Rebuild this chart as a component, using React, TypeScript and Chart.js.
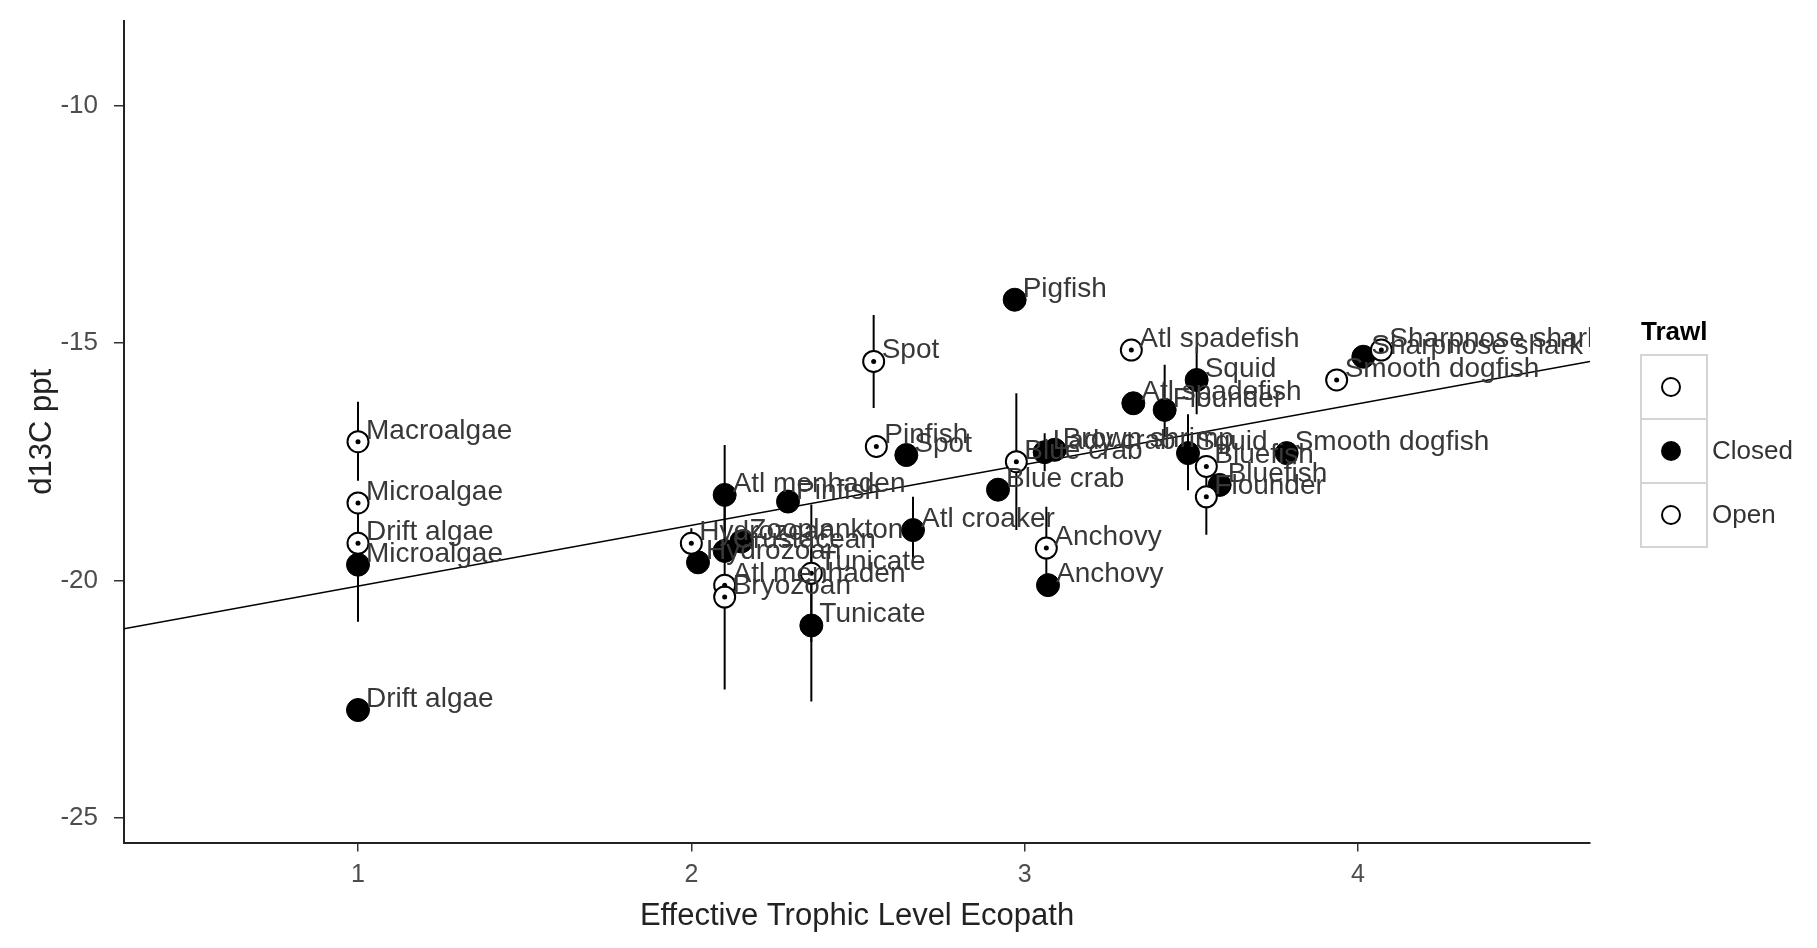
import React, { useEffect, useRef } from "react";
import { Chart, registerables } from "chart.js";

Chart.register(...registerables);

// ---- axis ticks ----
const xTicks = [1, 2, 3, 4];
const yTicks = [-25, -20, -15, -10];

// ---- Closed trawl points ----
const closedNames = [
  "Drift algae", "Microalgae", "Hydrozoan", "Atl menhaden", "Crustacean", "Zooplankton",
  "Pinfish", "Tunicate", "Spot", "Atl croaker", "Blue crab", "Pigfish",
  "Lady crab", "Brown shrimp", "Anchovy", "Atl spadefish", "Flounder", "Squid",
  "Squid", "Bluefish", "Smooth dogfish", "Sharpnose shark",
];
const closedX = [
  1.0, 1.0, 2.02, 2.1, 2.1, 2.15,
  2.29, 2.36, 2.645, 2.665, 2.92, 2.97,
  3.06, 3.09, 3.07, 3.326, 3.42, 3.516,
  3.49, 3.585, 3.786, 4.016,
];
const closedY = [
  -22.73, -19.67, -19.62, -18.2, -19.38, -19.18,
  -18.34, -20.95, -17.36, -18.94, -18.09, -14.09,
  -17.3, -17.25, -20.1, -16.27, -16.41, -15.78,
  -17.32, -17.99, -17.32, -15.29,
];
const closedLow = [
  null, -20.87, null, -19.25, null, null,
  null, -22.55, null, -19.6, null, null,
  -17.7, null, null, null, -16.98, -16.5,
  -18.1, null, null, null,
];
const closedHigh = [
  null, -18.47, null, -17.15, null, null,
  null, -19.35, null, -18.24, null, null,
  -16.9, null, null, null, -15.46, -15.08,
  -16.5, null, null, null,
];

// ---- Open trawl points ----
const openNames = [
  "Macroalgae", "Microalgae", "Drift algae", "Hydrozoan", "Atl menhaden", "Bryozoan",
  "Tunicate", "Spot", "Pinfish", "Blue crab", "Anchovy", "Atl spadefish",
  "Bluefish", "Flounder", "Smooth dogfish", "Sharpnose shark",
];
const openX = [
  1.0, 1.0, 1.0, 2.0, 2.1, 2.1,
  2.36, 2.547, 2.555, 2.975, 3.065, 3.32,
  3.545, 3.545, 3.936, 4.07,
];
const openY = [
  -17.08, -18.37, -19.22, -19.22, -20.1, -20.35,
  -19.85, -15.39, -17.18, -17.5, -19.32, -15.15,
  -17.6, -18.24, -15.78, -15.15,
];
const openLow = [
  -17.9, null, null, -19.5, null, -22.3,
  -21.3, -16.37, -17.4, -18.94, -19.97, null,
  null, -19.04, -16.0, null,
];
const openHigh = [
  -16.24, null, null, -18.9, null, -18.4,
  -18.4, -14.41, -16.95, -16.06, -18.45, null,
  null, -17.44, -15.55, null,
];

// ---- fitted line ----
const trendX = [0.298, 4.696];
const trendY = [-21.02, -15.39];

// ---- legend ----
const legendTitle = "Trawl";
const legendLabels = ["", "Closed", "Open"];
const legendFilled = [false, true, false];

const FONT = "'Liberation Sans', Arial, Helvetica, sans-serif";

export default function App() {
  const ref = useRef<HTMLCanvasElement | null>(null);

  useEffect(() => {
    const canvas = ref.current;
    if (!canvas) return;

    const errorBars = {
      id: "errorBars",
      beforeDatasetsDraw(chart: any) {
        const { ctx, chartArea, scales } = chart;
        const xs = scales.x;
        const ys = scales.y;
        ctx.save();
        ctx.beginPath();
        ctx.rect(chartArea.left, chartArea.top, chartArea.right - chartArea.left, chartArea.bottom - chartArea.top);
        ctx.clip();
        ctx.strokeStyle = "#000";
        ctx.lineWidth = 2;
        const draw = (xv: number[], lo: (number | null)[], hi: (number | null)[]) => {
          xv.forEach((v, i) => {
            const l = lo[i];
            const h = hi[i];
            if (l == null || h == null) return;
            const px = xs.getPixelForValue(v);
            ctx.beginPath();
            ctx.moveTo(px, ys.getPixelForValue(l));
            ctx.lineTo(px, ys.getPixelForValue(h));
            ctx.stroke();
          });
        };
        draw(closedX, closedLow, closedHigh);
        draw(openX, openLow, openHigh);
        ctx.restore();
      },
    };

    const pointLabels = {
      id: "pointLabels",
      afterDatasetsDraw(chart: any) {
        const { ctx, chartArea, scales } = chart;
        const xs = scales.x;
        const ys = scales.y;
        ctx.save();
        ctx.beginPath();
        ctx.rect(chartArea.left, chartArea.top, chartArea.right - chartArea.left, chartArea.bottom - chartArea.top);
        ctx.clip();
        ctx.font = `28px ${FONT}`;
        ctx.fillStyle = "#383838";
        ctx.textAlign = "left";
        ctx.textBaseline = "alphabetic";
        const draw = (names: string[], xv: number[], yv: number[]) => {
          names.forEach((n, i) => {
            const px = xs.getPixelForValue(xv[i]);
            const py = ys.getPixelForValue(yv[i]);
            ctx.fillText(n, px + 8, py - 3);
          });
        };
        draw(closedNames, closedX, closedY);
        draw(openNames, openX, openY);
        ctx.restore();
      },
    };

    const legendPlugin = {
      id: "customLegend",
      afterDraw(chart: any) {
        const { ctx } = chart;
        const left = 1641;
        const boxW = 66;
        const boxH = 64;
        const top0 = 355;
        ctx.save();
        ctx.fillStyle = "#000";
        ctx.font = `bold 26px ${FONT}`;
        ctx.textAlign = "left";
        ctx.textBaseline = "middle";
        ctx.fillText(legendTitle, left, 333);
        legendLabels.forEach((lab, i) => {
          const top = top0 + i * boxH;
          ctx.fillStyle = "#fff";
          ctx.fillRect(left, top, boxW, boxH);
          ctx.strokeStyle = "#d4d4d4";
          ctx.lineWidth = 2;
          ctx.strokeRect(left, top, boxW, boxH);
          const cx = left + boxW / 2 - 3;
          const cy = top + boxH / 2;
          ctx.beginPath();
          ctx.arc(cx, cy, legendFilled[i] ? 10 : 9, 0, Math.PI * 2);
          if (legendFilled[i]) {
            ctx.fillStyle = "#000";
            ctx.fill();
          } else {
            ctx.fillStyle = "#fff";
            ctx.fill();
            ctx.strokeStyle = "#000";
            ctx.lineWidth = 2;
            ctx.stroke();
          }
          if (lab) {
            ctx.fillStyle = "#333";
            ctx.font = `26px ${FONT}`;
            ctx.fillText(lab, left + boxW + 5, cy + 1);
          }
        });
        ctx.restore();
      },
    };

    const closedData = closedX.map((v, i) => ({ x: v, y: closedY[i] }));
    const openData = openX.map((v, i) => ({ x: v, y: openY[i] }));
    const trendData = trendX.map((v, i) => ({ x: v, y: trendY[i] }));

    const chart = new Chart(canvas, {
      type: "scatter",
      data: {
        datasets: [
          {
            label: "openCenter",
            data: openData,
            pointRadius: 2.5,
            pointHoverRadius: 2.5,
            backgroundColor: "#000",
            borderColor: "#000",
            borderWidth: 0,
          },
          {
            label: "Open",
            data: openData,
            pointRadius: 10.5,
            pointHoverRadius: 10.5,
            backgroundColor: "#fff",
            borderColor: "#000",
            borderWidth: 2,
          },
          {
            label: "Closed",
            data: closedData,
            pointRadius: 11.5,
            pointHoverRadius: 11.5,
            backgroundColor: "#000",
            borderColor: "#000",
            borderWidth: 1,
          },
          {
            type: "line" as any,
            label: "fit",
            data: trendData,
            borderColor: "#000",
            borderWidth: 1.6,
            pointRadius: 0,
            fill: false,
            showLine: true,
          } as any,
        ],
      },
      options: {
        responsive: false,
        animation: false,
        events: [],
        layout: { padding: { left: 0, right: 227, top: 21, bottom: 0 } },
        plugins: {
          legend: { display: false },
          tooltip: { enabled: false },
        },
        scales: {
          x: {
            type: "linear",
            min: 0.298,
            max: 4.696,
            afterBuildTicks: (s: any) => {
              s.ticks = xTicks.map((v) => ({ value: v }));
            },
            afterFit: (s: any) => {
              s.height = 105.5;
              s.paddingLeft = 0;
              s.paddingRight = 0;
            },
            grid: {
              drawOnChartArea: false,
              drawTicks: true,
              tickLength: 9,
              color: "#333",
              lineWidth: 1.5,
            },
            border: { display: true, color: "#222", width: 2 },
            ticks: {
              font: { family: FONT, size: 25 },
              color: "#4d4d4d",
              padding: 9,
              maxRotation: 0,
            },
            title: {
              display: true,
              text: "Effective Trophic Level Ecopath",
              font: { family: FONT, size: 31 },
              color: "#222",
              padding: { top: 0, bottom: 13 },
            },
          },
          y: {
            type: "linear",
            min: -25.52,
            max: -8.22,
            afterBuildTicks: (s: any) => {
              s.ticks = yTicks.map((v) => ({ value: v }));
            },
            afterFit: (s: any) => {
              s.width = 124;
              s.paddingTop = 0;
              s.paddingBottom = 0;
            },
            grid: {
              drawOnChartArea: false,
              drawTicks: true,
              tickLength: 10,
              color: "#333",
              lineWidth: 1.5,
            },
            border: { display: true, color: "#222", width: 2 },
            ticks: {
              font: { family: FONT, size: 26 },
              color: "#4d4d4d",
              padding: 16,
            },
            title: {
              display: true,
              text: "d13C ppt",
              font: { family: FONT, size: 31 },
              color: "#222",
              padding: { top: 24, bottom: 0 },
            },
          },
        },
      },
      plugins: [errorBars, pointLabels, legendPlugin],
    } as any);

    return () => {
      chart.destroy();
    };
  }, []);

  return (
    <div style={{ position: "absolute", left: 0, top: 0, width: 1817, height: 948, background: "#fff" }}>
      <canvas ref={ref} width={1817} height={948} style={{ display: "block" }} />
    </div>
  );
}
